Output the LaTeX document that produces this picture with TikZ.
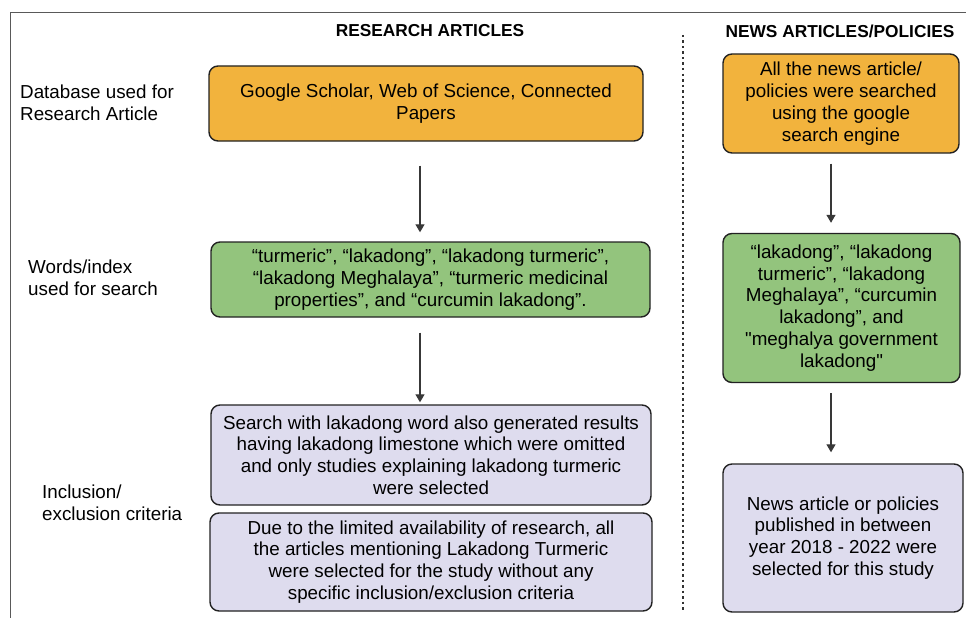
\documentclass[tikz,border=0pt]{standalone}
\usepackage{fontspec}
\setmainfont{Liberation Sans}[Ligatures=TeXOff]
\usetikzlibrary{arrows.meta}
\definecolor{orangebox}{HTML}{F2B33D}
\definecolor{greenbox}{HTML}{93C47D}
\definecolor{purplebox}{HTML}{DEDCEE}
\definecolor{edge}{HTML}{222222}
\tikzset{
  box/.style={draw=edge, line width=1.4pt, rounded corners=9pt, align=center,
    inner sep=0pt, font=\fontsize{18.8}{21.8}\selectfont, text=black},
  obox/.style={box, fill=orangebox},
  gbox/.style={box, fill=greenbox},
  pbox/.style={box, fill=purplebox},
  lbl/.style={align=left, anchor=west, font=\fontsize{18.8}{21.8}\selectfont, inner sep=0pt},
  hdr/.style={font=\bfseries\fontsize{17.3}{20}\selectfont, inner sep=0pt},
  arr/.style={draw=edge!90, line width=1.3pt, -{Triangle[length=8pt,width=9pt]}},
}
\begin{document}
\begin{tikzpicture}[x=1pt,y=-1pt]
\useasboundingbox (0,0) rectangle (966,618);
% frame
\draw[draw=black!65, line width=1pt] (10,618) -- (10,13) -- (966,13);
% dotted divider
\draw[draw=black!80, line width=1.6pt, dash pattern=on 2.5pt off 3pt] (683,35) -- (683,612);
% headers
\node[hdr] (h1) at (430,31) {RESEARCH ARTICLES};
\node[hdr] (h2) at (840,31) {NEWS ARTICLES/POLICIES};
% left labels
\node[lbl] (l1) at (20,103) {Database used for\\Research Article};
\node[lbl] (l2) at (28,278) {Words/index\\used for search};
\node[lbl] (l3) at (42,503) {Inclusion/\\exclusion criteria};
% left column boxes
\node[obox, minimum width=434pt, minimum height=75pt] (b1) at (426,103.5)
  {Google Scholar, Web of Science, Connected\\Papers};
\node[gbox, minimum width=439pt, minimum height=75pt] (b2) at (430.5,279.5)
  {“turmeric”, “lakadong”, “lakadong turmeric”,\\“lakadong Meghalaya”, “turmeric medicinal\\properties”, and “curcumin lakadong”.};
\node[pbox, minimum width=440pt, minimum height=100pt] (b3) at (431,455)
  {Search with lakadong word also generated results\\having lakadong limestone which were omitted\\and only studies explaining lakadong turmeric\\were selected};
\node[pbox, minimum width=442pt, minimum height=98pt] (b4) at (431,562)
  {Due to the limited availability of research, all\\the articles mentioning Lakadong Turmeric\\were selected for the study without any\\specific inclusion/exclusion criteria};
% right column boxes
\node[obox, minimum width=236pt, minimum height=99pt] (b5) at (841,103.5)
  {All the news article/\\policies were searched\\using the google\\search engine};
\node[gbox, minimum width=237pt, minimum height=149pt] (b6) at (841.5,308)
  {“lakadong”, “lakadong\\turmeric”, “lakadong\\Meghalaya”, “curcumin\\lakadong”, and\\"meghalya government\\lakadong"};
\node[pbox, minimum width=240pt, minimum height=148pt] (b7) at (843,538)
  {News article or policies\\published in between\\year 2018 - 2022 were\\selected for this study};
% arrows
\coordinate (ax1) at (420,0);
\coordinate (ax2) at (831,0);
\draw[arr, shorten <=24pt, shorten >=9pt] (b1.south -| ax1) -- (b2.north -| ax1);
\draw[arr, shorten <=15pt, shorten >=2pt] (b2.south -| ax1) -- (b3.north -| ax1);
\draw[arr, shorten <=10pt, shorten >=10pt] (b5.south -| ax2) -- (b6.north -| ax2);
\draw[arr, shorten <=10pt, shorten >=11pt] (b6.south -| ax2) -- (b7.north -| ax2);
\end{tikzpicture}
\end{document}
